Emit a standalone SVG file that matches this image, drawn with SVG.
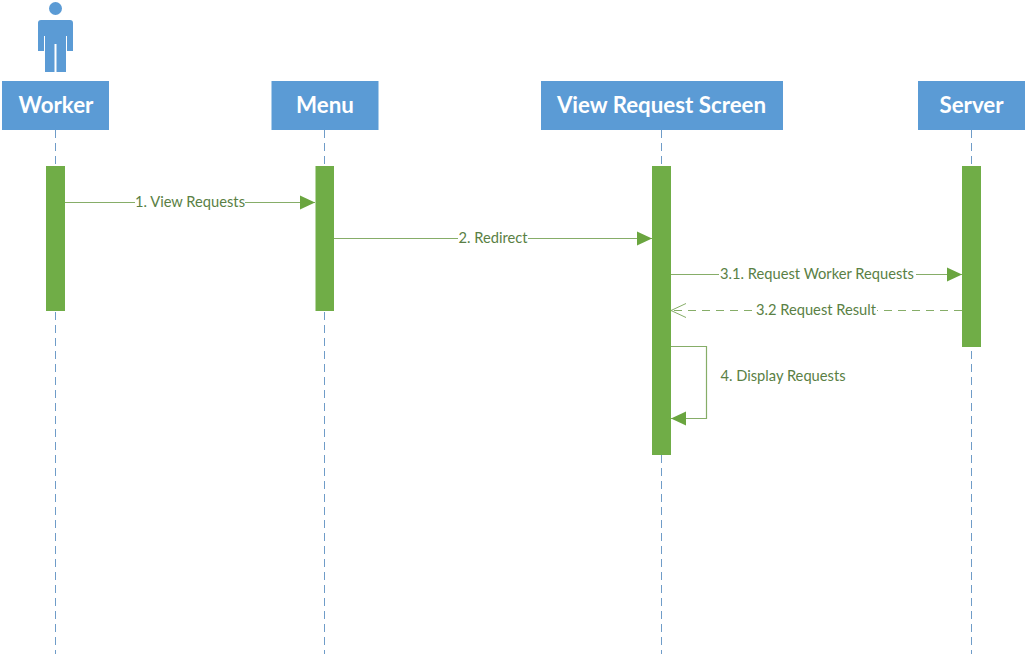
<svg xmlns="http://www.w3.org/2000/svg" width="1027" height="656" viewBox="0 0 1027 656">
<style>
.head{fill:#5b9bd5}
.htext{font:bold 22.3px Lato,"Liberation Sans",sans-serif;fill:#fff;text-anchor:middle}
.life{stroke:#6f9cc8;stroke-width:1;stroke-dasharray:8 5;fill:none}
.act{fill:#70ad47}
.msg{stroke:#86ad68;stroke-width:1.200;fill:none}
.lbl{font:14.700px Lato,"Liberation Sans",sans-serif;fill:#5a7f45;text-anchor:middle}
.bg{fill:#fff}
</style>
<defs>
<marker id="solid" markerUnits="userSpaceOnUse" markerWidth="16" markerHeight="16" refX="15" refY="8" orient="auto"><path d="M0 1 L15 8 L0 15 Z" fill="#6aa53f"/></marker>
<marker id="open" markerUnits="userSpaceOnUse" markerWidth="18" markerHeight="16" refX="16" refY="8" orient="auto"><path d="M1 1 L16 8 L1 15" fill="none" stroke="#86ad68" stroke-width="1"/></marker>
</defs>
<rect width="1027" height="656" fill="#fff"/>
<g id="lifelines">
<path class="life" d="M55.500 130V654"/>
<path class="life" d="M324.500 130V654"/>
<path class="life" d="M661.500 130V654"/>
<path class="life" d="M971.500 130V654"/>
</g>
<g id="actor-icon">
<circle class="head" cx="55.500" cy="8.500" r="6.500"/>
<path class="head" d="M41 20H70Q73 20 73 23V51H67V36H66V72H56.500V44H54.500V72H45V36H44V51H38V23Q38 20 41 20Z"/>
</g>
<g id="worker"><rect class="head" x="2" y="81" width="107" height="49"/><text class="htext" x="56" y="112.700">Worker</text></g>
<g id="menu"><rect class="head" x="271.500" y="81" width="107" height="49"/><text class="htext" x="325" y="112.700">Menu</text></g>
<g id="view-request-screen"><rect class="head" x="541" y="81" width="242" height="49"/><text class="htext" x="661.500" y="112.700">View Request Screen</text></g>
<g id="server"><rect class="head" x="918" y="81" width="107" height="49"/><text class="htext" x="971.500" y="112.700">Server</text></g>
<g id="activations">
<rect class="act" x="46" y="166" width="19" height="145"/>
<rect class="act" x="315.500" y="166" width="18.500" height="145"/>
<rect class="act" x="652" y="166" width="19" height="289"/>
<rect class="act" x="962" y="166" width="19" height="181"/>
</g>
<g id="connectors">
<path class="msg" d="M65 202.500H315" marker-end="url(#solid)"/>
<path class="msg" d="M334 238.500H652" marker-end="url(#solid)"/>
<path class="msg" d="M671 274.500H962" marker-end="url(#solid)"/>
<path class="msg" d="M962 310.500H671" stroke-dasharray="8 6" marker-end="url(#open)"/>
<path class="msg" d="M671 346.500H706.500V418.500H671" marker-end="url(#solid)"/>
</g>
<g id="labels">
<rect class="bg" x="135" y="194" width="110" height="17"/><text class="lbl" x="190" y="207.400">1. View Requests</text>
<rect class="bg" x="458" y="230" width="70" height="17"/><text class="lbl" x="493" y="243.400">2. Redirect</text>
<rect class="bg" x="719" y="266" width="197" height="17"/><text class="lbl" x="817" y="279.400">3.1. Request Worker Requests</text>
<rect class="bg" x="755" y="302" width="122" height="17"/><text class="lbl" x="816" y="315.400">3.2 Request Result</text>
<text class="lbl" x="783" y="381.400">4. Display Requests</text>
</g>
</svg>
